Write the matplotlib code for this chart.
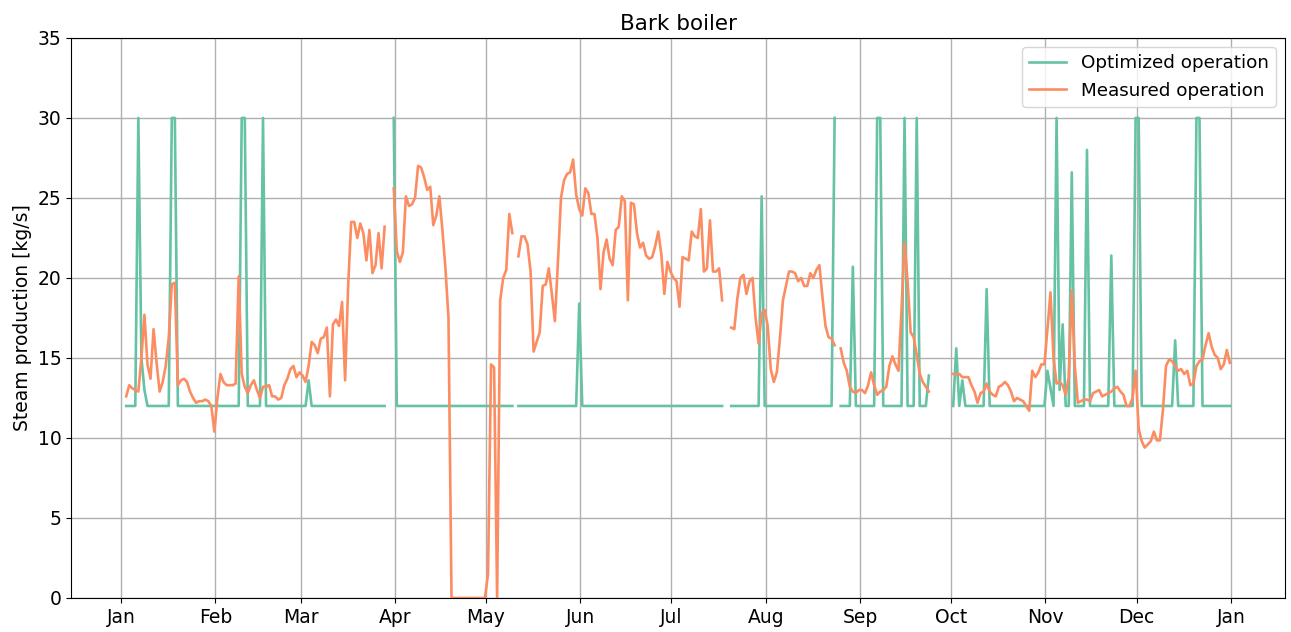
import numpy as np
import pandas as pd
import matplotlib
matplotlib.use("Agg")
import matplotlib.pyplot as plt
import matplotlib.dates as mdates

nan = np.nan

# daily values, starting 2 Jan
dates = pd.date_range("2018-01-02 16:00", periods=364, freq="D")

optimized = [
    12, 12, 12, 12, 30, 15.0, 13.0, 12, 12, 12,
    12, 12, 12, 12, 12, 30, 30, 12, 12, 12,
    12, 12, 12, 12, 12, 12, 12, 12, 12, 12,
    12, 12, 12, 12, 12, 12, 12, 12, 30, 30,
    12, 12, 12, 12, 12, 30, 12, 12, 12, 12,
    12, 12, 12, 12, 12, 12, 12, 12, 12, 12,
    13.6, 12, 12, 12, 12, 12, 12, 12, 12, 12,
    12, 12, 12, 12, 12, 12, 12, 12, 12, 12,
    12, 12, 12, 12, 12, 12, nan, nan, 30, 12,
    12, 12, 12, 12, 12, 12, 12, 12, 12, 12,
    12, 12, 12, 12, 12, 12, 12, 12, 12, 12,
    12, 12, 12, 12, 12, 12, 12, 12, 12, 12,
    12, 12, 12, 12, 12, 12, 12, 12, nan, 12,
    12, 12, 12, 12, 12, 12, 12, 12, 12, 12,
    12, 12, 12, 12, 12, 12, 12, 12, 12, 18.4,
    12, 12, 12, 12, 12, 12, 12, 12, 12, 12,
    12, 12, 12, 12, 12, 12, 12, 12, 12, 12,
    12, 12, 12, 12, 12, 12, 12, 12, 12, 12,
    12, 12, 12, 12, 12, 12, 12, 12, 12, 12,
    12, 12, 12, 12, 12, 12, 12, nan, nan, 12,
    12, 12, 12, 12, 12, 12, 12, 12, 12, 25.1,
    12, 12, 12, 12, 12, 12, 12, 12, 12, 12,
    12, 12, 12, 12, 12, 12, 12, 12, 12, 12,
    12, 12, 12, 30, nan, 12, 12, 12, 12, 20.7,
    12, 12, 12, 12, 12, 12, 12, 30, 30, 12,
    12, 12, 12, 12, 12, 12, 30, 12, 12, 12,
    30, 12, 12, 12, 13.9, nan, nan, nan, nan, nan,
    nan, nan, 12, 15.6, 12, 13.6, 12, 12, 12, 12,
    12, 12, 12, 19.3, 12, 12, 12, 12, 12, 12,
    12, 12, 12, 12, 12, 12, 12, 12, 12, 12,
    12, 12, 12, 14.2, 13.1, 12, 30, 13.0, 17.1, 12,
    12, 26.6, 12, 12, 12, 12, 28.0, 12, 12, 12,
    12, 12, 12, 12, 21.4, 12, 12, 12, 12, 12,
    12, 12, 30, 30, 12, 12, 12, 12, 12, 12,
    12, 12, 12, 12, 12, 16.1, 12, 12, 12, 12,
    12, 12, 30, 30, 12, 12, 12, 12, 12, 12,
    12, 12, 12, 12,
]

measured = [
    12.6, 13.3, 13.1, 13.0, 12.9, 15.0, 17.7, 14.6, 13.7, 16.8,
    14.7, 12.9, 13.5, 14.5, 16.3, 19.6, 19.7, 13.3, 13.6, 13.7,
    13.5, 12.9, 12.5, 12.2, 12.3, 12.3, 12.4, 12.3, 12.0, 10.4,
    12.5, 14.0, 13.5, 13.3, 13.3, 13.3, 13.4, 20.1, 14.0, 13.2,
    12.8, 13.3, 13.6, 13.0, 12.5, 13.2, 13.2, 13.3, 12.6, 12.6,
    12.4, 12.5, 13.3, 13.7, 14.3, 14.5, 13.8, 14.1, 13.9, 13.5,
    14.5, 16.0, 15.8, 15.3, 16.2, 16.3, 16.9, 12.6, 17.1, 17.4,
    17.0, 18.5, 13.6, 19.5, 23.5, 23.5, 22.5, 23.4, 22.8, 21.1,
    23.0, 20.3, 20.8, 22.8, 20.6, 23.2, nan, nan, 25.6, 21.7,
    21.0, 21.6, 25.1, 24.5, 24.6, 25.0, 27.0, 26.9, 26.3, 25.5,
    25.7, 23.3, 23.9, 25.1, 23.0, 20.6, 17.5, 0, 0, 0,
    0, 0, 0, 0, 0, 0, 0, 0, 0, 1.5,
    14.6, 14.4, 0, 18.6, 20.0, 20.5, 24.0, 22.8, nan, 21.35,
    22.6, 22.6, 22.1, 20.4, 15.4, 16.0, 16.6, 19.5, 19.6, 20.6,
    19.0, 17.3, 21.0, 25.0, 26.1, 26.5, 26.6, 27.4, 25.2, 24.3,
    23.9, 25.6, 25.3, 24.0, 24.0, 22.5, 19.3, 21.6, 22.4, 21.2,
    20.8, 23.0, 23.2, 25.1, 24.8, 18.6, 24.7, 24.6, 22.8, 21.9,
    22.2, 21.4, 21.2, 21.3, 22.0, 22.9, 21.5, 19.0, 21.0, 20.4,
    20.0, 19.8, 18.2, 21.3, 21.2, 21.1, 22.9, 22.6, 22.5, 24.3,
    20.4, 20.6, 23.6, 20.4, 20.4, 20.6, 18.6, nan, nan, 16.9,
    16.8, 18.7, 20.0, 20.2, 19.0, 19.8, 20.0, 17.5, 15.9, 17.8,
    18.0, 17.0, 14.3, 13.5, 14.1, 16.2, 18.6, 19.5, 20.4, 20.4,
    20.3, 19.8, 20.0, 19.5, 19.5, 20.3, 20.0, 20.5, 20.8, 18.8,
    17.0, 16.3, 16.2, 15.8, nan, 15.6, 14.7, 14.2, 13.2, 12.9,
    12.8, 13.0, 13.0, 12.8, 13.3, 14.1, 13.3, 12.7, 12.9, 13.0,
    13.2, 14.5, 15.1, 14.6, 14.2, 18.0, 22.2, 19.8, 16.6, 16.3,
    15.2, 14.0, 13.5, 13.2, 12.9, nan, nan, nan, nan, nan,
    nan, nan, 14.0, 13.95, 14.0, 13.8, 13.8, 13.8, 13.3, 12.9,
    12.2, 12.8, 12.9, 13.4, 12.9, 12.7, 12.6, 13.2, 13.3, 13.5,
    13.3, 12.9, 12.3, 12.5, 12.4, 12.3, 12.0, 11.7, 14.2, 13.8,
    14.1, 14.6, 14.6, 16.8, 19.1, 15.0, 13.4, 13.5, 13.3, 12.7,
    13.8, 19.2, 14.5, 12.2, 12.3, 12.4, 12.4, 12.3, 12.8, 12.9,
    13.0, 12.6, 12.7, 12.8, 12.9, 13.1, 13.2, 12.9, 12.7, 12.0,
    12.0, 12.5, 14.2, 10.6, 9.8, 9.4, 9.6, 9.8, 10.4, 9.85,
    9.85, 11.8, 14.5, 14.9, 14.8, 14.5, 14.2, 14.3, 14.0, 14.2,
    13.3, 13.4, 14.5, 14.8, 14.9, 15.8, 16.55, 15.7, 15.2, 15.0,
    14.3, 14.6, 15.5, 14.7,
]

plt.rcParams["font.family"] = ["DejaVu Sans"]
plt.rcParams["font.size"] = 13.5

fig, ax = plt.subplots(figsize=(12.91, 6.32), dpi=100)
fig.subplots_adjust(left=0.055, right=0.9954, top=0.94, bottom=0.0538)

ax.plot(dates, optimized, color="#66c2a5", lw=1.9, label="Optimized operation")
ax.plot(dates, measured, color="#fc8d62", lw=1.9, label="Measured operation")

ax.set_ylim(0, 35)
ax.xaxis.set_major_locator(mdates.MonthLocator())
ax.xaxis.set_major_formatter(mdates.DateFormatter("%b"))
ax.grid(True, color="#b0b0b0", lw=1.0)
ax.set_axisbelow(True)

ax.set_title("Bark boiler", fontsize=15.5)
ax.set_ylabel("Steam production [kg/s]")
ax.legend(loc="upper right", fontsize=13.2)

fig.savefig("out.png")
